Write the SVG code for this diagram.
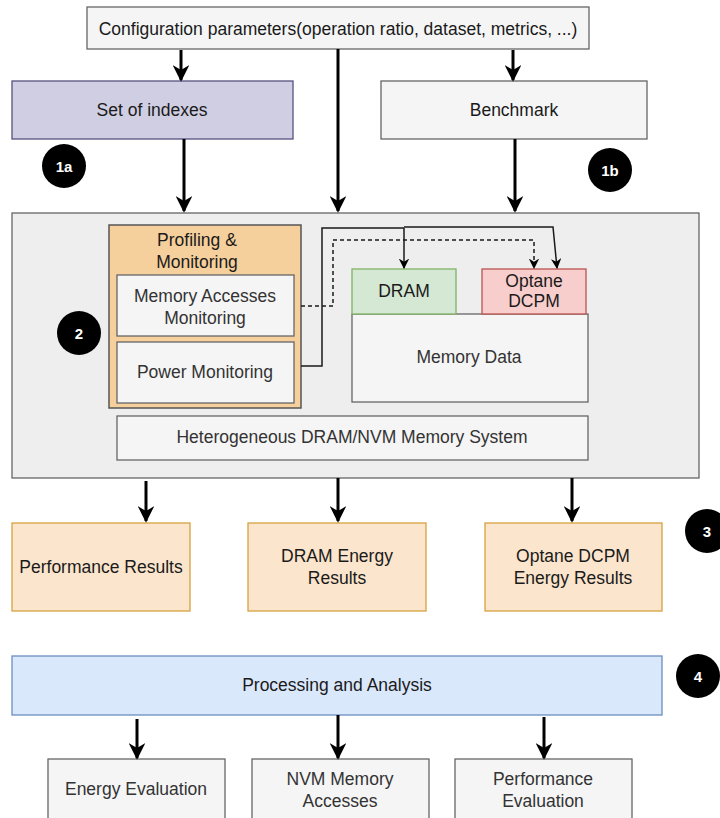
<svg xmlns="http://www.w3.org/2000/svg" width="720" height="818" viewBox="0 0 720 818">
  <defs>
    <marker id="arrow" viewBox="0 0 10 10" refX="9" refY="5" markerWidth="5.5" markerHeight="5.5" orient="auto" markerUnits="strokeWidth">
      <path d="M0,0 L10,5 L0,10 L3,5 Z" fill="#000"/>
    </marker>
    <marker id="arrowSm" viewBox="0 0 10 10" refX="9" refY="5" markerWidth="7" markerHeight="7" orient="auto" markerUnits="strokeWidth">
      <path d="M0,0 L10,5 L0,10 L3,5 Z" fill="#000"/>
    </marker>
  </defs>
  <style>
    text { font-family: "Liberation Sans", Arial, sans-serif; font-size: 17.5px; fill: #1a1a1a; text-anchor: middle; dominant-baseline: central; }
    .grey { fill: #f5f5f5; stroke: #666; stroke-width: 1.3; }
    .grey-t { fill: #333; }
    .result { fill: #fbe5cc; stroke: #d6a23f; stroke-width: 1.3; }
    .badge circle { fill: #000; }
    .badge text { fill: #fff; font-weight: bold; font-size: 15px; }
    .main { stroke: #000; stroke-width: 3; fill: none; marker-end: url(#arrow); }
    .thin { stroke: #1a1a1a; stroke-width: 1.5; fill: none; }
    .thin-a { stroke: #1a1a1a; stroke-width: 1.5; fill: none; marker-end: url(#arrowSm); }
  </style>

  <rect width="720" height="818" fill="#fff"/>

  <!-- inputs -->
  <g id="config">
    <rect class="grey" x="87" y="7" width="502" height="42"/>
    <text x="338" y="29">Configuration parameters(operation ratio, dataset, metrics, ...)</text>
  </g>
  <g id="indexes">
    <rect x="12" y="81" width="281" height="58" fill="#d0cee2" stroke="#56517e" stroke-width="1.3"/>
    <text x="152" y="110">Set of indexes</text>
  </g>
  <g id="benchmark">
    <rect class="grey" x="381" y="81" width="266" height="58"/>
    <text x="514" y="110">Benchmark</text>
  </g>

  <!-- system under test -->
  <g id="system">
    <rect x="12" y="213" width="687" height="265" fill="#eeeeee" stroke="#666" stroke-width="1.3"/>
  </g>
  <g id="profiling">
    <rect x="109" y="225" width="192" height="183" fill="#f5cf9c" stroke="#555" stroke-width="1.5"/>
    <text x="197" y="240">Profiling &amp;</text>
    <text x="197" y="262">Monitoring</text>
  </g>
  <g id="mem-accesses">
    <rect class="grey" x="117" y="275" width="177" height="61"/>
    <text class="grey-t" x="205" y="296">Memory Accesses</text>
    <text class="grey-t" x="205" y="318">Monitoring</text>
  </g>
  <g id="power">
    <rect class="grey" x="117" y="342" width="177" height="61"/>
    <text class="grey-t" x="205" y="372">Power Monitoring</text>
  </g>
  <g id="memory-data">
    <rect class="grey" x="352" y="314" width="236" height="88"/>
    <text class="grey-t" x="469" y="357">Memory Data</text>
  </g>
  <g id="dram">
    <rect x="352" y="269" width="104" height="45" fill="#d5e8d4" stroke="#82b366" stroke-width="1.3"/>
    <text x="404" y="291">DRAM</text>
  </g>
  <g id="optane">
    <rect x="482" y="269" width="104" height="45" fill="#f8cecc" stroke="#b85450" stroke-width="1.3"/>
    <text x="534" y="281">Optane</text>
    <text x="534" y="301">DCPM</text>
  </g>
  <g id="hetero">
    <rect class="grey" x="117" y="416" width="471" height="44"/>
    <text class="grey-t" x="352" y="437">Heterogeneous DRAM/NVM Memory System</text>
  </g>

  <!-- results -->
  <g id="perf-results">
    <rect class="result" x="12" y="523" width="178" height="88"/>
    <text x="101" y="567">Performance Results</text>
  </g>
  <g id="dram-energy">
    <rect class="result" x="248" y="523" width="178" height="88"/>
    <text x="337" y="556">DRAM Energy</text>
    <text x="337" y="578">Results</text>
  </g>
  <g id="optane-energy">
    <rect class="result" x="485" y="523" width="177" height="88"/>
    <text x="573" y="556">Optane DCPM</text>
    <text x="573" y="578">Energy Results</text>
  </g>

  <!-- analysis -->
  <g id="processing">
    <rect x="12" y="656" width="650" height="59" fill="#dae8fc" stroke="#6c8ebf" stroke-width="1.3"/>
    <text x="337" y="685">Processing and Analysis</text>
  </g>
  <g id="energy-eval">
    <rect class="grey" x="48" y="759" width="177" height="70"/>
    <text class="grey-t" x="136" y="789">Energy Evaluation</text>
  </g>
  <g id="nvm-accesses">
    <rect class="grey" x="252" y="759" width="177" height="70"/>
    <text class="grey-t" x="340" y="779">NVM Memory</text>
    <text class="grey-t" x="340" y="801">Accesses</text>
  </g>
  <g id="perf-eval">
    <rect class="grey" x="455" y="759" width="177" height="70"/>
    <text class="grey-t" x="543" y="779">Performance</text>
    <text class="grey-t" x="543" y="801">Evaluation</text>
  </g>

  <!-- step badges -->
  <g id="badge-1a" class="badge"><circle cx="64" cy="166" r="22"/><text x="64" y="166">1a</text></g>
  <g id="badge-1b" class="badge"><circle cx="610" cy="170" r="22"/><text x="610" y="170">1b</text></g>
  <g id="badge-2" class="badge"><circle cx="79" cy="333" r="22"/><text x="79" y="333">2</text></g>
  <g id="badge-3" class="badge"><circle cx="707" cy="531" r="22"/><text x="707" y="531">3</text></g>
  <g id="badge-4" class="badge"><circle cx="698" cy="676" r="22"/><text x="698" y="676">4</text></g>

  <!-- connectors -->
  <g id="connectors">
    <line class="main" x1="181" y1="50" x2="181" y2="80"/>
    <line class="main" x1="513" y1="50" x2="513" y2="80"/>
    <line class="main" x1="338" y1="49" x2="338" y2="211"/>
    <line class="main" x1="184" y1="139" x2="184" y2="211"/>
    <line class="main" x1="515" y1="139" x2="515" y2="211"/>

    <line class="main" x1="146" y1="481" x2="146" y2="521"/>
    <line class="main" x1="338" y1="478" x2="338" y2="521"/>
    <line class="main" x1="572" y1="478" x2="572" y2="521"/>

    <line class="main" x1="137" y1="719" x2="137" y2="758"/>
    <line class="main" x1="338" y1="715" x2="338" y2="758"/>
    <line class="main" x1="544" y1="717" x2="544" y2="758"/>

    <!-- power probes to DRAM and Optane -->
    <polyline class="thin" points="301,366 322,366 322,228 404,228"/>
    <polyline class="thin-a" points="404,228 404,268"/>
    <polyline class="thin-a" points="404,227 553,227 557,268"/>
    <!-- memory access tracing to Optane -->
    <polyline class="thin-a" points="301,306 333,306 333,240 534,240 534,268" stroke-dasharray="4 3"/>
  </g>
</svg>
